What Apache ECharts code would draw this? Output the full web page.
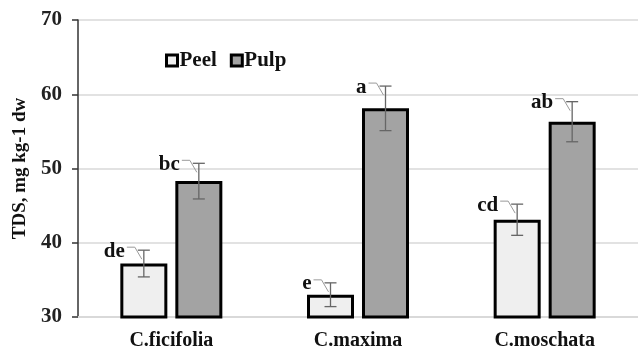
<!DOCTYPE html>
<html>
<head>
<meta charset="utf-8">
<script src="https://cdn.jsdelivr.net/npm/echarts@6/dist/echarts.min.js"></script>
<style>html,body{margin:0;padding:0;background:#fff;}#c{width:638px;height:351px;}</style>
</head>
<body>
<div id="c"></div>
<script>
const categories = ['C.ficifolia', 'C.maxima', 'C.moschata'];
const peel = [37.2, 33.0, 43.1];
const pulp = [48.3, 58.1, 56.3];
const peelErr = [1.8, 1.6, 2.1];
const pulpErr = [2.4, 3.0, 2.7];
const peelLetters = ['de', 'e', 'cd'];
const pulpLetters = ['bc', 'a', 'ab'];
const yMin = 30, yMax = 70, yStep = 10;

const FONT = '"Liberation Serif", "Times New Roman", serif';
const BAR_W = 47, GAP = 8;
const OFF = (BAR_W + GAP) / 2;

function errSeries(name, vals, errs, letters, dx) {
  return {
    type: 'custom',
    name: name + '_err',
    z: 10,
    silent: true,
    data: vals.map((v, i) => [i, v, errs[i]]),
    renderItem: function (params, api) {
      const i = api.value(0), v = api.value(1), e = api.value(2);
      const t = api.coord([i, v + e]);
      const b = api.coord([i, v - e]);
      const x = t[0] + dx;
      const cap = 6;
      const ec = '#666';
      const lbl = letters[params.dataIndex];
      return {
        type: 'group',
        children: [
          { type: 'line', shape: { x1: x, y1: t[1], x2: x, y2: b[1] }, style: { stroke: ec, lineWidth: 1.3 } },
          { type: 'line', shape: { x1: x - cap, y1: t[1], x2: x + cap, y2: t[1] }, style: { stroke: ec, lineWidth: 1.3 } },
          { type: 'line', shape: { x1: x - cap, y1: b[1], x2: x + cap, y2: b[1] }, style: { stroke: ec, lineWidth: 1.3 } },
          { type: 'polyline', shape: { points: [[x - 17, t[1] - 3], [x - 9, t[1] - 3], [x - 2, t[1] + 9]] }, style: { stroke: '#9a9a9a', lineWidth: 1, fill: null } },
          { type: 'text', style: { text: lbl, x: x - 19, y: t[1] + 1, align: 'right', verticalAlign: 'middle', font: 'bold 21px ' + FONT, fill: '#111' } }
        ]
      };
    }
  };
}

const chart = echarts.init(document.getElementById('c'), null, { renderer: 'canvas' });
chart.setOption({
  animation: false,
  backgroundColor: '#fff',
  grid: { left: 78, top: 20, bottom: 34, width: 577 },
  legend: {
    left: 160, top: 45,
    itemWidth: 11, itemHeight: 11, itemGap: 13,
    icon: 'rect',
    data: [
      { name: 'Peel', itemStyle: { color: '#efefef', borderColor: '#000', borderWidth: 3 } },
      { name: 'Pulp', itemStyle: { color: '#a3a3a3', borderColor: '#000', borderWidth: 3 } }
    ],
    textStyle: { fontFamily: FONT, fontWeight: 'bold', fontSize: 21, color: '#111', padding: [0, 0, 0, -3] }
  },
  xAxis: {
    type: 'category',
    data: categories,
    axisLine: { show: true, lineStyle: { color: '#d9d9d9', width: 2 } },
    axisTick: { show: false },
    axisLabel: { fontFamily: FONT, fontWeight: 'bold', fontSize: 20, color: '#111', margin: 14 }
  },
  yAxis: {
    type: 'value',
    min: yMin, max: yMax, interval: yStep,
    name: 'TDS, mg kg-1 dw',
    nameLocation: 'middle',
    nameGap: 48,
    nameRotate: 90,
    nameTextStyle: { fontFamily: FONT, fontWeight: 'bold', fontSize: 19, color: '#111' },
    axisLine: { show: true, lineStyle: { color: '#333', width: 1.5 } },
    axisTick: { show: true, length: 6, inside: false, lineStyle: { color: '#333', width: 1.5 } },
    axisLabel: { fontFamily: FONT, fontWeight: 'bold', fontSize: 21, color: '#222', margin: 16 },
    splitLine: { show: true, lineStyle: { color: '#d9d9d9', width: 1.5 } }
  },
  series: [
    { type: 'bar', name: 'Peel', data: peel, barWidth: BAR_W, barGap: (GAP / BAR_W * 100) + '%',
      itemStyle: { color: '#efefef', borderColor: '#000', borderWidth: 3 } },
    { type: 'bar', name: 'Pulp', data: pulp, barWidth: BAR_W,
      itemStyle: { color: '#a3a3a3', borderColor: '#000', borderWidth: 3 } },
    errSeries('Peel', peel, peelErr, peelLetters, -OFF),
    errSeries('Pulp', pulp, pulpErr, pulpLetters, OFF)
  ]
});
</script>
</body>
</html>
